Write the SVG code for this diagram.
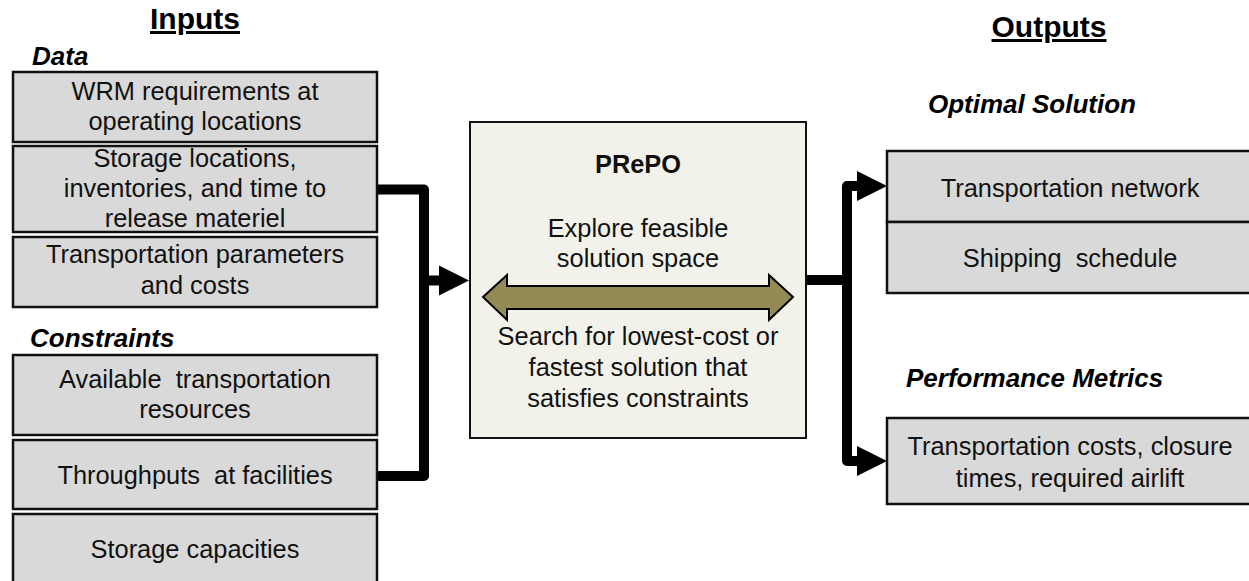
<svg xmlns="http://www.w3.org/2000/svg" width="1249" height="581" viewBox="0 0 1249 581">
  <style>
    .box { fill: #d9d9d9; stroke: #111; stroke-width: 2.5; }
    .core { fill: #f3f2ea; stroke: #111; stroke-width: 2; }
    .txt { font-family: "Liberation Sans", Arial, sans-serif; font-size: 25.4px; fill: #111; text-anchor: middle; }
    .sec { font-family: "Liberation Sans", Arial, sans-serif; font-size: 26px; font-weight: bold; font-style: italic; fill: #000; }
    .head { font-family: "Liberation Sans", Arial, sans-serif; font-size: 30px; font-weight: bold; fill: #000; text-anchor: middle; text-decoration: underline; }
    .wire { fill: none; stroke: #000; stroke-width: 10; stroke-linejoin: round; }
    .tip { fill: #000; }
  </style>

  <!-- column headings -->
  <text class="head" x="195" y="29">Inputs</text>
  <text class="head" x="1049" y="37">Outputs</text>
  <text class="sec" x="32" y="65">Data</text>
  <text class="sec" x="30" y="347">Constraints</text>
  <text class="sec" x="928" y="113">Optimal Solution</text>
  <text class="sec" x="906" y="387">Performance Metrics</text>

  <!-- connectors -->
  <g id="connectors">
    <path class="wire" d="M378,189.5 H424 V476 H378"/>
    <path class="wire" d="M424,280.5 H441"/>
    <polygon class="tip" points="439,265.5 469,280.5 439,295.5"/>
    <path class="wire" d="M807,280 H847"/>
    <path class="wire" d="M859,186 H847 V461 H859"/>
    <polygon class="tip" points="857,171 887,186 857,201"/>
    <polygon class="tip" points="857,446 887,461 857,476"/>
  </g>

  <!-- input data -->
  <g id="wrm-requirements">
    <rect class="box" x="13" y="72" width="364" height="70"/>
    <text class="txt" x="195" y="100">WRM requirements at</text>
    <text class="txt" x="195" y="130">operating locations</text>
  </g>
  <g id="storage-locations">
    <rect class="box" x="13" y="146" width="364" height="86"/>
    <text class="txt" x="195" y="167">Storage locations,</text>
    <text class="txt" x="195" y="197">inventories, and time to</text>
    <text class="txt" x="195" y="227">release materiel</text>
  </g>
  <g id="transport-parameters">
    <rect class="box" x="13" y="237" width="364" height="70"/>
    <text class="txt" x="195" y="263">Transportation parameters</text>
    <text class="txt" x="195" y="294">and costs</text>
  </g>

  <!-- input constraints -->
  <g id="transport-resources">
    <rect class="box" x="13" y="355" width="364" height="80"/>
    <text class="txt" x="195" y="388" xml:space="preserve">Available  transportation</text>
    <text class="txt" x="195" y="418">resources</text>
  </g>
  <g id="throughputs">
    <rect class="box" x="13" y="440" width="364" height="69"/>
    <text class="txt" x="195" y="484" xml:space="preserve">Throughputs  at facilities</text>
  </g>
  <g id="storage-capacities">
    <rect class="box" x="13" y="514" width="364" height="90"/>
    <text class="txt" x="195" y="558">Storage capacities</text>
  </g>

  <!-- optimizer -->
  <g id="prepo">
    <rect class="core" x="470" y="122" width="336" height="316"/>
    <text class="txt" x="638" y="173" font-weight="bold">PRePO</text>
    <text class="txt" x="638" y="237">Explore feasible</text>
    <text class="txt" x="638" y="267">solution space</text>
    <polygon points="483,297 507,275 507,286 769,286 769,275 793,297 769,320 769,309 507,309 507,320" fill="#948a54" stroke="#000" stroke-width="2" stroke-linejoin="miter"/>
    <text class="txt" x="638" y="345">Search for lowest-cost or</text>
    <text class="txt" x="638" y="376">fastest solution that</text>
    <text class="txt" x="638" y="407">satisfies constraints</text>
  </g>

  <!-- outputs -->
  <g id="transport-network">
    <rect class="box" x="887" y="151" width="366" height="71"/>
    <text class="txt" x="1070" y="197">Transportation network</text>
  </g>
  <g id="shipping-schedule">
    <rect class="box" x="887" y="222" width="366" height="71"/>
    <text class="txt" x="1070" y="267" xml:space="preserve">Shipping  schedule</text>
  </g>
  <g id="performance">
    <rect class="box" x="887" y="418" width="366" height="86"/>
    <text class="txt" x="1070" y="455">Transportation costs, closure</text>
    <text class="txt" x="1070" y="487">times, required airlift</text>
  </g>
</svg>
